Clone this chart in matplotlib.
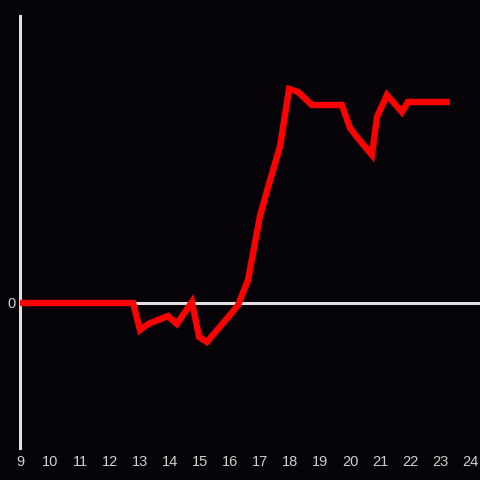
import matplotlib

matplotlib.use("Agg")
import matplotlib.pyplot as plt

hours = [9.0, 12.77, 13.0, 13.27, 13.93, 14.23, 14.73, 14.97, 15.23, 16.0, 16.27,
         16.6, 17.0, 17.27, 17.67, 17.97, 18.27, 18.73, 19.73, 20.0, 20.23, 20.73,
         20.9, 21.23, 21.73, 21.93, 23.33]
values = [0.0, 0.0, -13.5, -10.5, -6.5, -10.5, 0.5, -17.0, -19.5, -6.0, -1.0,
          11.5, 43.5, 58.0, 78.5, 107.0, 105.5, 99.0, 99.0, 87.5, 83.0, 74.0,
          93.0, 104.0, 95.5, 100.5, 100.5]
x_ticks = list(range(9, 25))
y_ticks = [0]

bg = "#050307"
axis_color = "#e0e0e0"

fig = plt.figure(figsize=(4.8, 4.8), dpi=100, facecolor=bg)
ax = fig.add_axes([20 / 480, 32 / 480, 460 / 480, 432 / 480], facecolor=bg)

ax.axhline(0, color=axis_color, linewidth=2.2, zorder=1)
ax.plot(hours, values, color="#ff0000", linewidth=4.6, solid_joinstyle="miter",
        solid_capstyle="butt", zorder=3)

ax.set_xlim(9, 9 + 460 / 30)
ax.set_ylim(-72.5, 143.5)
ax.set_xticks(x_ticks)
ax.set_yticks(y_ticks)
ax.tick_params(length=0, colors="#d0d0d0", labelsize=10.5, pad=5)
ax.tick_params(axis="y", pad=3)
for label in ax.get_xticklabels() + ax.get_yticklabels():
    label.set_family("Liberation Sans")

for side in ["top", "right", "bottom"]:
    ax.spines[side].set_visible(False)
ax.spines["left"].set_color(axis_color)
ax.spines["left"].set_linewidth(2.2)

fig.savefig("out.png", dpi=100, facecolor=bg)
